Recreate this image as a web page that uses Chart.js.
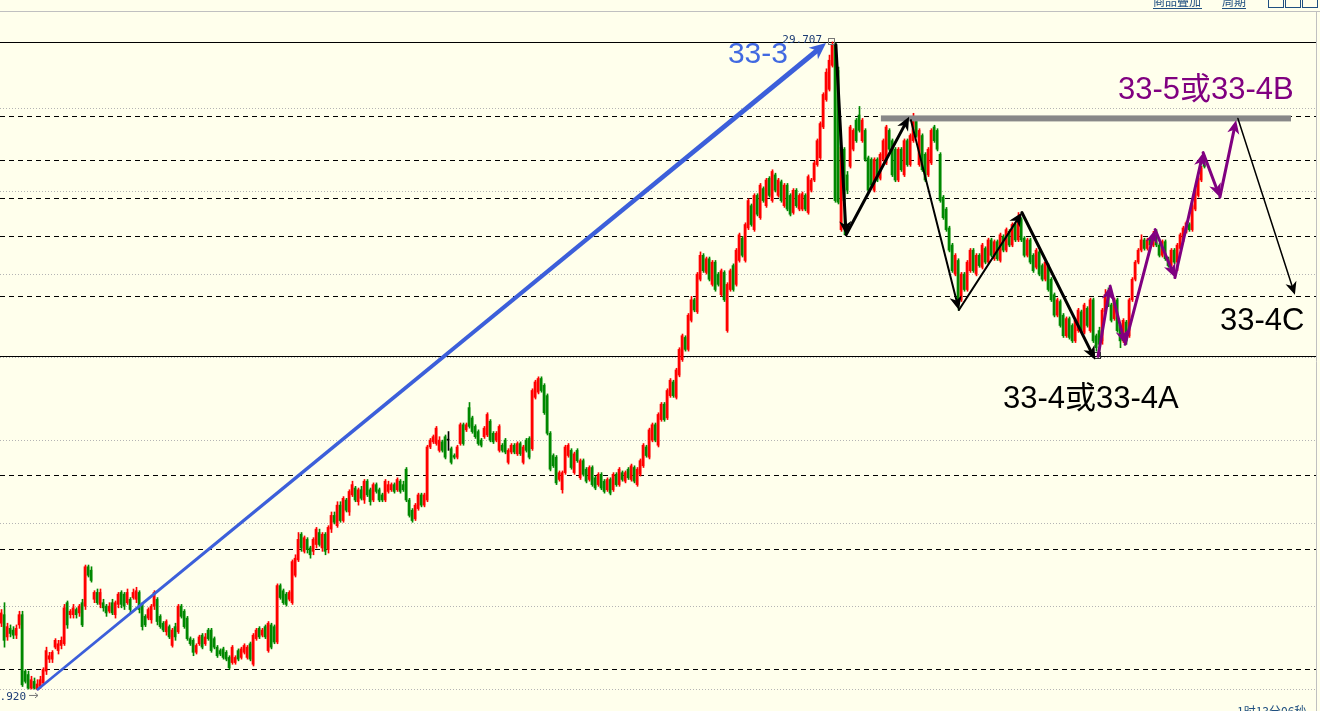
<!DOCTYPE html>
<html>
<head>
<meta charset="utf-8">
<script src="https://cdn.jsdelivr.net/npm/chart.js@4.4.1/dist/chart.umd.min.js"></script>
<style>
html, body { margin: 0; padding: 0; background: #FFFFEC; overflow: hidden; }
canvas { display: block; }
</style>
</head>
<body>
<canvas id="kChart" width="1320" height="711"></canvas>
<script>
// candle data, one entry per bar (left to right)
const opens = [
26.31,26.36,26.23,26.28,26.27,26.24,26.30,26.36,26.03,26.01,
25.93,25.97,25.925,25.94,25.96,26.03,26.10,26.10,26.17,26.15,
26.18,26.19,26.43,26.36,26.36,26.39,26.37,26.43,26.41,26.64,
26.62,26.45,26.49,26.42,26.43,26.41,26.38,26.43,26.36,26.42,
26.49,26.48,26.43,26.45,26.46,26.45,26.49,26.42,26.35,26.34,
26.33,26.41,26.45,26.35,26.31,26.26,26.29,26.18,26.29,26.26,
26.41,26.38,26.34,26.22,26.21,26.14,26.19,26.24,26.19,26.27,
26.27,26.22,26.17,26.15,26.16,26.14,26.11,26.08,26.08,26.15,
26.11,26.14,26.11,26.19,26.07,26.22,26.28,26.24,26.29,26.15,
26.30,26.29,26.20,26.53,26.50,26.48,26.45,26.43,26.59,26.68,
26.83,26.73,26.80,26.75,26.73,26.77,26.84,26.75,26.83,26.74,
26.86,26.94,26.88,27.00,26.91,27.03,26.96,27.06,27.10,27.02,
27.09,27.03,27.14,27.09,27.03,27.12,27.09,27.06,27.03,27.08,
27.09,27.12,27.09,27.14,27.12,27.21,27.03,26.97,26.92,26.98,
27.06,27.00,27.03,27.34,27.37,27.36,27.32,27.37,27.40,27.38,
27.33,27.29,27.28,27.36,27.47,27.44,27.57,27.51,27.46,27.43,
27.38,27.40,27.41,27.49,27.42,27.38,27.32,27.35,27.38,27.25,
27.31,27.35,27.30,27.36,27.25,27.38,27.39,27.33,27.63,27.66,
27.74,27.70,27.64,27.42,27.29,27.28,27.15,27.09,27.19,27.29,
27.32,27.19,27.32,27.16,27.26,27.21,27.15,27.22,27.16,27.12,
27.18,27.14,27.09,27.15,27.09,27.18,27.12,27.19,27.14,27.21,
27.15,27.22,27.12,27.18,27.23,27.34,27.28,27.38,27.47,27.35,
27.50,27.59,27.51,27.64,27.72,27.63,27.76,27.85,27.98,27.91,
28.08,28.20,28.13,28.32,28.46,28.36,28.44,28.29,28.42,28.35,
28.23,28.36,28.02,28.26,28.40,28.29,28.43,28.56,28.43,28.62,
28.75,28.61,28.81,28.68,28.85,28.75,28.91,28.78,28.93,28.81,
28.89,28.75,28.87,28.81,28.71,28.84,28.73,28.73,28.81,28.71,
28.84,28.90,28.99,29.03,29.21,29.37,29.43,29.57,29.69,29.54,
28.61,29.08,28.93,28.98,29.08,29.25,29.28,29.13,29.19,29.03,
29.02,28.84,29.02,28.91,29.02,29.00,29.19,29.13,29.08,28.90,
29.08,28.93,29.13,28.99,29.13,29.25,28.99,29.16,29.05,28.93,
29.00,29.21,29.19,29.05,28.80,28.73,28.62,28.52,28.35,28.43,
28.20,28.35,28.26,28.37,28.49,28.35,28.46,28.39,28.50,28.42,
28.55,28.44,28.54,28.43,28.57,28.49,28.60,28.52,28.64,28.55,
28.67,28.56,28.46,28.55,28.46,28.39,28.48,28.40,28.32,28.40,
28.32,28.23,28.11,28.19,28.11,27.99,28.09,28.05,27.96,28.02,
28.13,28.01,28.15,28.02,28.20,27.99,28.02,27.96,28.13,28.23,
28.17,28.09,28.20,28.05,27.96,28.07,27.99,28.20,28.32,28.42,
28.49,28.55,28.50,28.55,28.52,28.57,28.52,28.46,28.54,28.44,
28.40,28.49,28.42,28.50,28.55,28.60,28.64,28.61,28.73,28.81,
28.90,29.01
];
const highs = [
26.39,26.43,26.31,26.30,26.29,26.30,26.38,26.38,26.04,26.03,
26.00,25.99,25.98,26.00,26.05,26.17,26.14,26.15,26.22,26.21,
26.23,26.42,26.44,26.39,26.42,26.40,26.42,26.45,26.65,26.65,
26.64,26.50,26.51,26.51,26.45,26.42,26.43,26.45,26.44,26.49,
26.50,26.49,26.51,26.46,26.51,26.52,26.50,26.43,26.36,26.40,
26.42,26.50,26.46,26.36,26.32,26.33,26.30,26.28,26.31,26.42,
26.42,26.39,26.35,26.23,26.22,26.19,26.24,26.25,26.25,26.28,
26.28,26.23,26.18,26.16,26.17,26.15,26.12,26.18,26.12,26.16,
26.17,26.19,26.18,26.20,26.25,26.28,26.29,26.28,26.30,26.32,
26.31,26.30,26.54,26.54,26.51,26.49,26.50,26.68,26.71,26.84,
26.84,26.82,26.81,26.76,26.81,26.87,26.86,26.84,26.84,26.88,
26.96,26.96,27.02,27.02,27.05,27.04,27.09,27.14,27.11,27.10,
27.11,27.15,27.15,27.10,27.13,27.13,27.10,27.07,27.15,27.14,
27.13,27.13,27.16,27.15,27.14,27.22,27.04,26.98,27.01,27.07,
27.07,27.07,27.35,27.39,27.41,27.46,27.40,27.38,27.41,27.43,
27.34,27.30,27.35,27.48,27.48,27.48,27.60,27.52,27.47,27.44,
27.39,27.46,27.54,27.50,27.43,27.43,27.47,27.36,27.39,27.33,
27.36,27.36,27.37,27.37,27.35,27.39,27.40,27.68,27.73,27.75,
27.75,27.71,27.65,27.43,27.30,27.29,27.20,27.20,27.35,27.36,
27.33,27.31,27.33,27.27,27.27,27.22,27.23,27.23,27.17,27.19,
27.19,27.15,27.16,27.16,27.19,27.19,27.22,27.20,27.20,27.22,
27.24,27.23,27.22,27.27,27.36,27.35,27.45,27.48,27.48,27.54,
27.60,27.60,27.68,27.74,27.73,27.80,27.92,28.00,27.99,28.12,
28.22,28.21,28.36,28.48,28.47,28.45,28.45,28.43,28.43,28.36,
28.38,28.37,28.30,28.38,28.41,28.50,28.59,28.57,28.65,28.79,
28.76,28.82,28.82,28.88,28.86,28.91,28.92,28.96,28.94,28.91,
28.90,28.88,28.88,28.82,28.85,28.85,28.82,28.83,28.82,28.93,
28.91,29.01,29.14,29.24,29.41,29.55,29.63,29.707,29.70,29.56,
29.10,29.09,28.95,29.22,29.20,29.26,29.33,29.26,29.20,29.04,
29.03,29.03,29.03,29.06,29.14,29.22,29.20,29.14,29.09,29.09,
29.09,29.14,29.14,29.17,29.29,29.26,29.20,29.17,29.06,29.09,
29.20,29.22,29.20,29.06,28.81,28.74,28.63,28.53,28.47,28.44,
28.36,28.36,28.43,28.50,28.50,28.47,28.47,28.53,28.51,28.56,
28.56,28.55,28.55,28.59,28.58,28.62,28.61,28.65,28.65,28.71,
28.68,28.57,28.56,28.56,28.47,28.50,28.49,28.41,28.43,28.41,
28.33,28.24,28.21,28.20,28.12,28.10,28.10,28.06,28.09,28.15,
28.14,28.18,28.16,28.21,28.21,28.00,28.04,28.15,28.26,28.27,
28.18,28.21,28.21,28.06,28.09,28.08,28.21,28.33,28.43,28.50,
28.58,28.56,28.56,28.56,28.60,28.61,28.53,28.55,28.55,28.45,
28.50,28.50,28.53,28.59,28.63,28.66,28.65,28.76,28.85,28.92,
28.98,29.04
];
const lows = [
26.29,26.17,26.21,26.23,26.22,26.22,26.28,25.94,25.96,25.925,
25.925,25.925,25.92,25.93,25.95,26.01,26.08,26.08,26.16,26.13,
26.16,26.18,26.28,26.34,26.34,26.34,26.35,26.29,26.39,26.58,
26.55,26.43,26.42,26.40,26.38,26.35,26.37,26.36,26.34,26.40,
26.40,26.39,26.42,26.37,26.45,26.43,26.37,26.27,26.29,26.33,
26.31,26.39,26.30,26.28,26.26,26.24,26.22,26.17,26.21,26.25,
26.34,26.28,26.21,26.18,26.12,26.13,26.18,26.16,26.18,26.21,
26.14,26.16,26.11,26.12,26.10,26.09,26.04,26.07,26.07,26.09,
26.10,26.13,26.10,26.09,26.06,26.21,26.22,26.23,26.22,26.14,
26.16,26.19,26.19,26.45,26.42,26.41,26.44,26.42,26.58,26.67,
26.73,26.72,26.72,26.69,26.71,26.75,26.76,26.73,26.71,26.72,
26.84,26.89,26.87,26.90,26.90,26.96,26.94,27.05,27.02,27.00,
27.03,27.01,27.05,27.00,27.02,27.07,27.02,27.02,27.02,27.07,
27.08,27.07,27.08,27.07,27.08,27.02,26.93,26.90,26.91,26.97,
26.99,26.99,27.02,27.33,27.36,27.35,27.31,27.31,27.27,27.32,
27.24,27.27,27.27,27.35,27.35,27.43,27.45,27.42,27.39,27.35,
27.34,27.39,27.40,27.37,27.36,27.37,27.31,27.31,27.30,27.24,
27.30,27.30,27.29,27.29,27.24,27.31,27.27,27.32,27.62,27.65,
27.66,27.53,27.41,27.20,27.22,27.12,27.14,27.07,27.18,27.28,
27.21,27.18,27.25,27.15,27.17,27.13,27.14,27.11,27.09,27.11,
27.09,27.07,27.08,27.06,27.08,27.11,27.11,27.14,27.13,27.15,
27.14,27.13,27.11,27.17,27.22,27.28,27.27,27.37,27.37,27.34,
27.49,27.49,27.50,27.63,27.63,27.62,27.75,27.84,27.90,27.90,
28.07,28.13,28.12,28.31,28.36,28.35,28.31,28.28,28.25,28.28,
28.22,28.19,28.01,28.25,28.25,28.28,28.42,28.45,28.42,28.61,
28.63,28.60,28.69,28.67,28.77,28.74,28.80,28.77,28.83,28.80,
28.77,28.74,28.72,28.69,28.70,28.74,28.72,28.72,28.72,28.70,
28.83,28.89,28.98,29.02,29.20,29.36,29.42,29.56,28.77,28.76,
28.60,28.58,28.82,28.97,29.07,29.12,29.18,29.12,29.01,28.83,
28.86,28.83,28.89,28.90,29.01,28.99,29.07,28.92,28.89,28.89,
28.95,28.92,28.98,28.98,29.12,29.15,28.98,28.95,28.89,28.92,
28.99,29.12,29.07,28.77,28.67,28.60,28.48,28.36,28.34,28.14,
28.19,28.25,28.25,28.36,28.36,28.34,28.39,28.38,28.41,28.41,
28.45,28.43,28.43,28.42,28.48,28.48,28.51,28.51,28.54,28.54,
28.54,28.45,28.45,28.41,28.36,28.38,28.34,28.31,28.31,28.25,
28.19,28.10,28.10,28.04,27.98,27.98,27.97,27.95,27.95,28.01,
28.01,28.00,28.04,28.01,27.95,27.90,27.872,27.94,28.12,28.16,
28.07,28.08,28.01,27.92,27.95,27.94,27.98,28.19,28.31,28.41,
28.48,28.49,28.49,28.51,28.51,28.51,28.45,28.45,28.43,28.39,
28.36,28.41,28.37,28.49,28.54,28.59,28.60,28.60,28.72,28.80,
28.89,28.97
];
const closes = [
26.37,26.21,26.29,26.25,26.24,26.28,26.36,25.95,25.97,25.93,
25.98,25.93,25.955,25.98,26.04,26.15,26.12,26.14,26.21,26.19,
26.21,26.40,26.30,26.38,26.40,26.36,26.41,26.30,26.64,26.59,
26.56,26.49,26.43,26.49,26.40,26.37,26.41,26.37,26.43,26.48,
26.42,26.41,26.49,26.39,26.49,26.50,26.39,26.29,26.30,26.39,
26.41,26.49,26.32,26.29,26.27,26.32,26.23,26.27,26.23,26.41,
26.35,26.29,26.22,26.19,26.14,26.18,26.23,26.17,26.23,26.22,
26.15,26.17,26.12,26.13,26.11,26.10,26.05,26.17,26.11,26.10,
26.16,26.18,26.17,26.10,26.24,26.27,26.23,26.27,26.23,26.31,
26.17,26.20,26.53,26.46,26.43,26.42,26.49,26.67,26.69,26.80,
26.75,26.81,26.74,26.71,26.80,26.86,26.77,26.83,26.73,26.87,
26.94,26.90,27.00,26.91,27.04,26.97,27.08,27.12,27.03,27.09,
27.04,27.14,27.06,27.02,27.12,27.08,27.03,27.03,27.14,27.12,
27.12,27.08,27.15,27.08,27.09,27.03,26.94,26.91,27.00,27.06,
27.00,27.06,27.34,27.38,27.40,27.45,27.38,27.32,27.28,27.38,
27.25,27.28,27.34,27.47,27.36,27.47,27.46,27.43,27.40,27.36,
27.35,27.45,27.53,27.38,27.37,27.42,27.46,27.32,27.31,27.32,
27.35,27.31,27.36,27.30,27.34,27.32,27.28,27.67,27.72,27.74,
27.67,27.54,27.42,27.21,27.23,27.13,27.19,27.19,27.34,27.35,
27.22,27.30,27.26,27.26,27.18,27.14,27.22,27.12,27.10,27.18,
27.10,27.08,27.15,27.07,27.18,27.12,27.21,27.15,27.19,27.16,
27.23,27.14,27.21,27.26,27.35,27.29,27.44,27.47,27.38,27.53,
27.59,27.50,27.67,27.73,27.64,27.79,27.91,27.99,27.91,28.11,
28.20,28.14,28.35,28.46,28.37,28.44,28.32,28.42,28.26,28.29,
28.37,28.20,28.29,28.37,28.26,28.49,28.58,28.46,28.64,28.78,
28.64,28.81,28.70,28.87,28.78,28.90,28.81,28.95,28.84,28.90,
28.78,28.87,28.73,28.70,28.84,28.75,28.81,28.82,28.73,28.92,
28.90,29.00,29.13,29.23,29.40,29.53,29.60,29.69,28.78,28.77,
29.09,28.78,28.84,29.21,29.19,29.13,29.19,29.25,29.02,28.84,
28.87,29.02,28.90,29.05,29.13,29.21,29.08,28.93,28.90,29.08,
28.96,29.13,28.99,29.16,29.27,29.16,29.19,28.96,28.90,29.08,
29.19,29.13,29.08,28.78,28.68,28.61,28.49,28.37,28.46,28.20,
28.35,28.26,28.42,28.49,28.37,28.46,28.40,28.52,28.42,28.55,
28.46,28.54,28.44,28.58,28.49,28.61,28.52,28.64,28.55,28.68,
28.55,28.46,28.55,28.42,28.37,28.49,28.35,28.32,28.42,28.26,
28.20,28.11,28.20,28.05,27.99,28.09,27.98,27.96,28.08,28.14,
28.02,28.17,28.05,28.20,27.96,27.92,27.94,28.14,28.23,28.17,
28.08,28.20,28.02,27.96,28.08,27.96,28.20,28.32,28.42,28.49,
28.55,28.50,28.55,28.52,28.57,28.52,28.46,28.54,28.44,28.40,
28.49,28.42,28.52,28.58,28.62,28.65,28.61,28.75,28.84,28.91,
28.97,28.98
];

// horizontal levels (price)
const gridPrices = [29.321, 28.836, 28.351, 27.866, 27.381, 26.896, 26.411, 25.926];
const dashPrices = [29.274, 29.017, 28.795, 28.573, 28.222, 27.176, 26.744, 26.042];
const solidPrices = [29.707, 27.872];

// marked extremes [bar index, price]
const highMark = [277, 29.707];
const lowMark = [12, 25.920];
const pivotMark = [365.7, 27.872];

// wave drawings, points as [bar index, price]
const blueWave = [[12, 25.92], [275, 29.70]];
const blackWaves = [
  [[278.3, 29.69], [281.7, 28.58]],
  [[281.7, 28.58], [302.7, 29.27]],
  [[303.3, 29.25], [319.3, 28.14]],
  [[319.3, 28.14], [340.3, 28.71]],
  [[340.3, 28.71], [364.7, 27.85]]
];
const purpleWave = [[365.7, 27.87], [369.7, 28.28], [374.7, 27.94], [384.7, 28.61],
  [391.3, 28.33], [400.7, 29.06], [406.3, 28.80], [411.7, 29.25]];
const projection = [[412.3, 29.26], [431.3, 28.23]];
const resistance = [293.3, 430, 29.26];

const waveLabels = [
  ['33-3', 242.3, 29.584, '#4169E1', 30],
  ['33-5或33-4B', 372.3, 29.373, '#800080', 31],
  ['33-4或33-4A', 334.0, 27.568, '#000000', 31],
  ['33-4C', 406.3, 28.024, '#000000', 31]
];

const idx = opens.map((_, i) => i);
const candleColors = idx.map(i => closes[i] > opens[i] ? '#FF0000' : (closes[i] < opens[i] ? '#008800' : '#000000'));

function hline(ctx, a, py) {
  ctx.beginPath();
  ctx.moveTo(a.left, py);
  ctx.lineTo(a.right, py);
  ctx.stroke();
}

function arrowHead(ctx, x2, y2, ang, head) {
  ctx.beginPath();
  ctx.moveTo(x2, y2);
  ctx.lineTo(x2 - head * Math.cos(ang - 0.42), y2 - head * Math.sin(ang - 0.42));
  ctx.lineTo(x2 - head * 0.65 * Math.cos(ang), y2 - head * 0.65 * Math.sin(ang));
  ctx.lineTo(x2 - head * Math.cos(ang + 0.42), y2 - head * Math.sin(ang + 0.42));
  ctx.closePath();
  ctx.fill();
}

function arrow(ctx, x1, y1, x2, y2, color, width, head) {
  const ang = Math.atan2(y2 - y1, x2 - x1);
  ctx.strokeStyle = color;
  ctx.fillStyle = color;
  ctx.lineWidth = width;
  ctx.beginPath();
  ctx.moveTo(x1, y1);
  ctx.lineTo(x2 - Math.cos(ang) * head * 0.6, y2 - Math.sin(ang) * head * 0.6);
  ctx.stroke();
  arrowHead(ctx, x2, y2, ang, head);
}

// wedge-shaped arrow, thin at the start and wider at the tip
function taperArrow(ctx, x1, y1, x2, y2, color, w1, w2, head) {
  const ang = Math.atan2(y2 - y1, x2 - x1);
  const nx = -Math.sin(ang), ny = Math.cos(ang);
  const ex = x2 - Math.cos(ang) * head * 0.6, ey = y2 - Math.sin(ang) * head * 0.6;
  ctx.fillStyle = color;
  ctx.beginPath();
  ctx.moveTo(x1 + nx * w1 / 2, y1 + ny * w1 / 2);
  ctx.lineTo(ex + nx * w2 / 2, ey + ny * w2 / 2);
  ctx.lineTo(ex - nx * w2 / 2, ey - ny * w2 / 2);
  ctx.lineTo(x1 - nx * w1 / 2, y1 - ny * w1 / 2);
  ctx.closePath();
  ctx.fill();
  arrowHead(ctx, x2, y2, ang, head);
}

const overlay = {
  id: 'overlay',
  beforeDatasetsDraw(chart) {
    const { ctx, chartArea: a, scales: { y } } = chart;
    ctx.save();
    ctx.lineWidth = 1;
    ctx.strokeStyle = '#b4b4b4';
    ctx.setLineDash([1, 2]);
    gridPrices.forEach(p => hline(ctx, a, Math.round(y.getPixelForValue(p)) + 0.5));
    ctx.strokeStyle = '#000000';
    ctx.setLineDash([5, 4]);
    dashPrices.forEach(p => hline(ctx, a, Math.round(y.getPixelForValue(p)) + 0.5));
    ctx.setLineDash([]);
    solidPrices.forEach(p => hline(ctx, a, Math.round(y.getPixelForValue(p)) + 0.5));
    ctx.restore();
  },
  afterDatasetsDraw(chart) {
    const { ctx, scales: { x, y } } = chart;
    const px = pt => [x.getPixelForValue(pt[0]), y.getPixelForValue(pt[1])];
    ctx.save();

    // resistance bar
    ctx.fillStyle = '#888888';
    const ry = y.getPixelForValue(resistance[2]);
    ctx.fillRect(x.getPixelForValue(resistance[0]), ry - 3, x.getPixelForValue(resistance[1]) - x.getPixelForValue(resistance[0]), 6);

    // extreme labels
    const [hx, hy] = px(highMark);
    ctx.font = '11px "DejaVu Sans Mono", monospace';
    ctx.fillStyle = '#1c3c74';
    ctx.textAlign = 'right';
    ctx.textBaseline = 'middle';
    ctx.fillText(highMark[1].toFixed(3), hx - 10, hy - 2);
    ctx.strokeStyle = '#777777';
    ctx.lineWidth = 1;
    ctx.strokeRect(Math.round(hx) - 3.5, Math.round(hy) - 3.5, 6, 6);

    const [lx, ly] = px(lowMark);
    ctx.fillText(lowMark[1].toFixed(3), lx - 11, ly + 7);
    ctx.beginPath();
    ctx.moveTo(lx - 8, ly + 5.5);
    ctx.lineTo(lx + 1, ly + 5.5);
    ctx.moveTo(lx - 2, ly + 3);
    ctx.lineTo(lx + 1, ly + 5.5);
    ctx.lineTo(lx - 2, ly + 8);
    ctx.stroke();

    const [vx, vy] = px(pivotMark);
    ctx.strokeStyle = '#333333';
    ctx.strokeRect(Math.round(vx) - 3.5, Math.round(vy) - 3.5, 6, 6);

    // waves
    ctx.lineCap = 'round';
    const b0 = px(blueWave[0]), b1 = px(blueWave[1]);
    taperArrow(ctx, b0[0], b0[1], b1[0], b1[1], '#3C5FDA', 2.5, 5, 18);

    blackWaves.forEach((seg, k) => {
      const p0 = px(seg[0]), p1 = px(seg[1]);
      arrow(ctx, p0[0], p0[1], p1[0], p1[1], '#000000', (k === 2 || k === 3) ? 2 : 3, 15);
    });

    for (let k = 1; k < purpleWave.length; k++) {
      const p0 = px(purpleWave[k - 1]), p1 = px(purpleWave[k]);
      arrow(ctx, p0[0], p0[1], p1[0], p1[1], '#800080', 3, 15);
    }

    const q0 = px(projection[0]), q1 = px(projection[1]);
    arrow(ctx, q0[0], q0[1], q1[0], q1[1], '#000000', 1.5, 14);

    // wave labels
    ctx.textAlign = 'left';
    ctx.textBaseline = 'alphabetic';
    waveLabels.forEach(l => {
      ctx.font = l[4] + 'px "Liberation Sans", "Noto Sans CJK SC", sans-serif';
      ctx.fillStyle = l[3];
      ctx.fillText(l[0], x.getPixelForValue(l[1]), y.getPixelForValue(l[2]));
    });
    ctx.restore();
  },
  afterDraw(chart) {
    const { ctx } = chart;
    ctx.save();
    // header strip line and right border
    ctx.fillStyle = '#FFFFEC';
    ctx.fillRect(0, 0, 1320, 11);
    ctx.strokeStyle = '#c0c0c0';
    ctx.lineWidth = 1;
    ctx.beginPath();
    ctx.moveTo(0, 11.5);
    ctx.lineTo(1320, 11.5);
    ctx.moveTo(1316.5, 12);
    ctx.lineTo(1316.5, 711);
    ctx.stroke();

    ctx.fillStyle = '#1f4f80';
    ctx.strokeStyle = '#1f4f80';
    ctx.font = '12px "Noto Sans CJK SC", sans-serif';
    ctx.textAlign = 'left';
    ctx.textBaseline = 'alphabetic';
    ctx.fillText('商品叠加', 1153, 6);
    ctx.fillText('周期', 1222, 6);
    ctx.beginPath();
    ctx.moveTo(1153, 8.5); ctx.lineTo(1202, 8.5);
    ctx.moveTo(1222, 8.5); ctx.lineTo(1246, 8.5);
    ctx.stroke();
    [1268, 1285, 1302].forEach(bx => ctx.strokeRect(bx + 0.5, -2.5, 15, 10));

    ctx.fillText('1时13分06秒', 1237, 716);
    ctx.restore();
  }
};

new Chart(document.getElementById('kChart'), {
  type: 'bar',
  data: {
    datasets: [
      {
        label: 'wick',
        data: idx.map(i => ({ x: i + 1 / 6, y: [lows[i], highs[i]] })),
        backgroundColor: candleColors,
        barThickness: 1,
        grouped: false,
        borderWidth: 0
      },
      {
        label: 'body',
        data: idx.map(i => ({ x: i, y: [opens[i], closes[i]] })),
        backgroundColor: candleColors,
        barThickness: 2,
        minBarLength: 1,
        grouped: false,
        borderWidth: 0
      }
    ]
  },
  options: {
    responsive: false,
    animation: false,
    devicePixelRatio: 1,
    events: [],
    layout: { padding: { left: 0, right: 4, top: 0, bottom: 0 } },
    plugins: { legend: { display: false }, tooltip: { enabled: false } },
    scales: {
      x: { type: 'linear', display: false, offset: false, min: -1 / 3, max: 438 + 1 / 3 },
      y: { type: 'linear', display: false, min: 25.797, max: 29.952 }
    }
  },
  plugins: [overlay]
});
</script>
</body>
</html>
